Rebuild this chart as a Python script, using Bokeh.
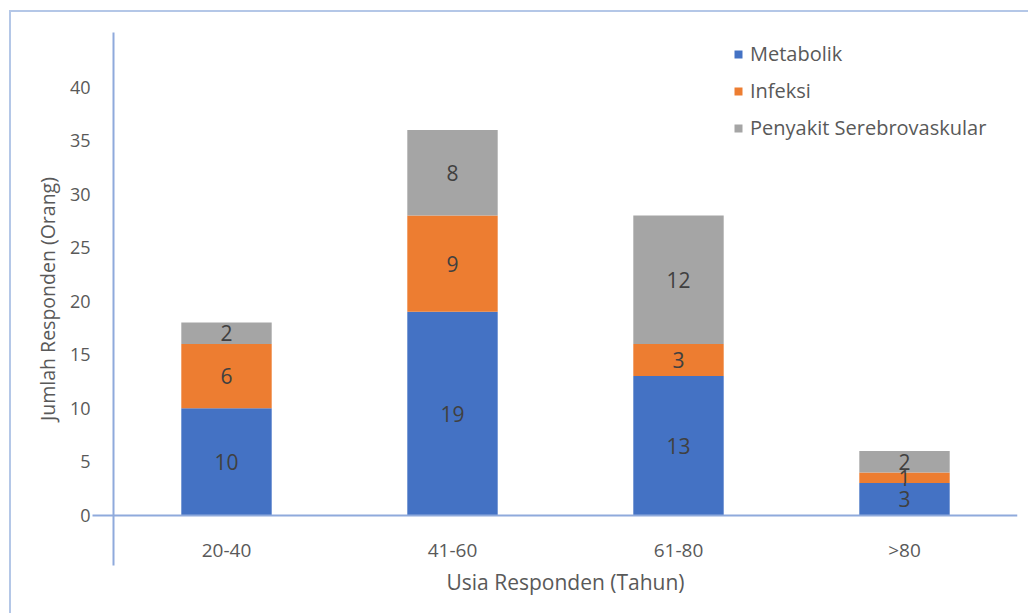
from bokeh.plotting import figure
from bokeh.models import (ColumnDataSource, FactorRange, Range1d, LinearAxis, CategoricalAxis,
                          FixedTicker, Legend, LegendItem, Title)
from bokeh.core.properties import value
from bokeh.embed import file_html
from bokeh.resources import INLINE

# ---- data ----
age_groups = ["20-40", "41-60", "61-80", ">80"]
metabolik = [10, 19, 13, 3]
infeksi = [6, 9, 3, 1]
serebrovaskular = [2, 8, 12, 2]
series_names = ["Metabolik", "Infeksi", "Penyakit Serebrovaskular"]
series_values = [metabolik, infeksi, serebrovaskular]
series_colors = ["#4472C4", "#ED7D31", "#A5A5A5"]
y_ticks = [0, 5, 10, 15, 20, 25, 30, 35, 40]
x_title = "Usia Responden (Tahun)"
y_title = "Jumlah Responden (Orang)"

FONT = "Open Sans"
AXIS_BLUE = "#8FAADC"
TEXT_GRAY = "#595959"
LABEL_GRAY = "#404040"
BORDER = "#B4C7E7"

data = {"age": age_groups}
for n, v in zip(series_names, series_values):
    data[n] = v
source = ColumnDataSource(data)

# canvas placed at (11, 12) after 9/10 px margin + 2 px border
p = figure(width=1019, height=603,
           x_range=FactorRange(factors=age_groups),
           y_range=Range1d(-4.7, 45.1),
           output_backend="svg", toolbar_location=None,
           x_axis_location=None, y_axis_location=None,
           min_border_left=102, min_border_right=13,
           min_border_top=20, min_border_bottom=50,
           styles={"margin-left": "9px", "margin-top": "10px",
                   "border-left": f"2px solid {BORDER}",
                   "border-top": f"2px solid {BORDER}"})
p.xgrid.visible = False
p.ygrid.visible = False
p.outline_line_color = None
p.background_fill_color = "white"
p.border_fill_color = "white"

renderers = p.vbar_stack(series_names, x="age", width=0.4, color=series_colors,
                         source=source, line_color=None)

# data labels in the middle of each segment
bottoms = [0] * len(age_groups)
for vals in series_values:
    mids = [b + v / 2 for b, v in zip(bottoms, vals)]
    lab_src = ColumnDataSource(dict(x=age_groups, y=mids, t=[str(v) for v in vals]))
    p.text(x="x", y="y", text="t", source=lab_src, text_align="center",
           text_baseline="middle", text_font=value(FONT), text_font_size="21px",
           text_color=LABEL_GRAY)
    bottoms = [b + v for b, v in zip(bottoms, vals)]

# inner y axis: the axis line plus the tick at 0
y_line_axis = LinearAxis(ticker=FixedTicker(ticks=[0]), major_tick_out=21, major_tick_in=0,
                         axis_line_color=AXIS_BLUE, axis_line_width=2,
                         major_tick_line_color=AXIS_BLUE, major_tick_line_width=2,
                         minor_tick_line_color=None,
                         major_label_overrides={0: ""}, major_label_standoff=0,
                         major_label_text_font_size="1px")
p.add_layout(y_line_axis, "left")

y_axis = LinearAxis(ticker=FixedTicker(ticks=y_ticks), axis_line_color=None,
                    major_tick_line_color=None, minor_tick_line_color=None,
                    major_label_standoff=-4, major_label_text_font=FONT,
                    major_label_text_font_size="18px", major_label_text_color=TEXT_GRAY,
                    axis_label=y_title, axis_label_standoff=6,
                    axis_label_text_font=FONT, axis_label_text_font_size="19.5px",
                    axis_label_text_font_style="normal", axis_label_text_color=TEXT_GRAY)
p.add_layout(y_axis, "left")

x_axis = CategoricalAxis(fixed_location=0, axis_line_color=AXIS_BLUE, axis_line_width=2,
                         major_tick_line_color=None, minor_tick_line_color=None,
                         major_label_standoff=16, major_label_text_font=FONT,
                         major_label_text_font_size="19px", major_label_text_color=TEXT_GRAY)
p.add_layout(x_axis, "below")

x_axis_title = Title(text=x_title, align="center", standoff=0,
                     text_font=FONT, text_font_size="21px", text_font_style="normal",
                     text_color=TEXT_GRAY)
p.add_layout(x_axis_title, "below")

legend = Legend(items=[LegendItem(label=n, renderers=[r]) for n, r in zip(series_names, renderers)],
                location=(620, 424), orientation="vertical",
                glyph_width=10, glyph_height=10, label_standoff=7, spacing=10,
                label_height=26, padding=0, margin=0,
                border_line_color=None, background_fill_alpha=0,
                label_text_font=FONT, label_text_font_size="20px",
                label_text_color=TEXT_GRAY)
p.add_layout(legend, "center")

open("out.html", "w").write(file_html(p, INLINE))
